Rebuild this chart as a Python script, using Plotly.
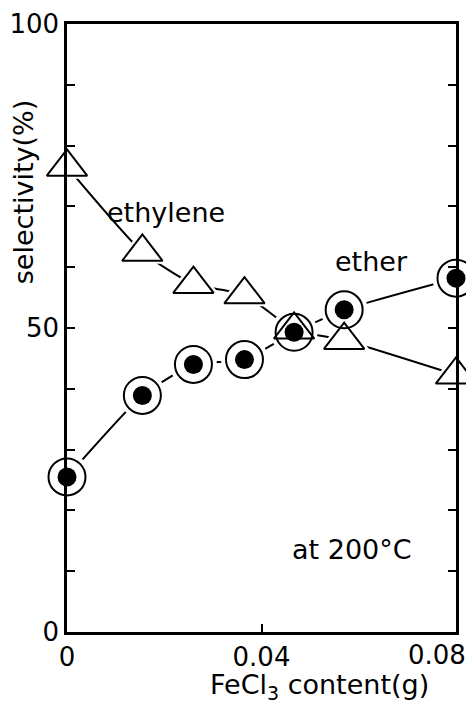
import plotly.graph_objects as go

# FeCl3 content (g)
fecl3 = [0.0, 0.0155, 0.026, 0.0365, 0.0467, 0.057, 0.08]
# selectivity (%)
ethylene = [76.5, 62.5, 57.2, 55.5, 49.7, 48.0, 42.3]
ether = [25.5, 38.9, 44.0, 44.8, 49.3, 53.0, 58.2]

y_ticks = [0, 50, 100]
y_tick_text = ["0", "50", "100"]
x_ticks = [0, 0.04, 0.08]
x_tick_text = ["0", "0.04", "0.08"]

FONT = "DejaVu Sans"
TRI = 35
CIR = 37

fig = go.Figure()
# connecting lines
fig.add_trace(go.Scatter(x=fecl3, y=ethylene, mode="lines",
                         line=dict(color="black", width=2, shape="spline", smoothing=0.5),
                         cliponaxis=False, hoverinfo="skip"))
fig.add_trace(go.Scatter(x=fecl3, y=ether, mode="lines",
                         line=dict(color="black", width=2, shape="spline", smoothing=0.5),
                         cliponaxis=False, hoverinfo="skip"))
# white halos for gaps between line and markers
fig.add_trace(go.Scatter(x=fecl3, y=ethylene, mode="markers",
                         marker=dict(symbol="triangle-up", size=TRI + 12, color="white",
                                     line=dict(width=0)),
                         cliponaxis=False, hoverinfo="skip"))
fig.add_trace(go.Scatter(x=fecl3, y=ether, mode="markers",
                         marker=dict(symbol="circle", size=CIR + 10, color="white",
                                     line=dict(width=0)),
                         cliponaxis=False, hoverinfo="skip"))
# ethylene triangles
fig.add_trace(go.Scatter(x=fecl3, y=ethylene, mode="markers", name="ethylene",
                         marker=dict(symbol="triangle-up", size=TRI, color="white",
                                     line=dict(color="black", width=2)),
                         cliponaxis=False))
# ether circles with filled dots
fig.add_trace(go.Scatter(x=fecl3, y=ether, mode="markers", name="ether",
                         marker=dict(symbol="circle-open", size=CIR, color="black",
                                     line=dict(color="black", width=2)),
                         cliponaxis=False))
fig.add_trace(go.Scatter(x=fecl3, y=ether, mode="markers",
                         marker=dict(symbol="circle", size=19, color="black",
                                     line=dict(width=0)),
                         cliponaxis=False, hoverinfo="skip"))

fig.update_layout(
    width=474, height=705,
    # page body adds 8px offset; margins compensate so the plot sits at 67..456 x 24..632
    margin=dict(l=59, r=26, t=16, b=81),
    paper_bgcolor="white", plot_bgcolor="white",
    showlegend=False,
    font=dict(family=FONT, size=26, color="black"),
    xaxis=dict(range=[0, 0.08], tickvals=x_ticks[:2], ticktext=x_tick_text[:2],
               automargin=False, ticklabeloverflow="allow",
               showgrid=False, zeroline=False, showline=True, linecolor="black",
               linewidth=2.5, mirror=True, ticks="inside", ticklen=8, tickwidth=2,
               tickcolor="black", tickfont=dict(family=FONT, size=26)),
    yaxis=dict(range=[0, 100], tickvals=y_ticks, ticktext=y_tick_text,
               automargin=False, ticklabeloverflow="allow",
               showgrid=False, zeroline=False, showline=True, linecolor="black",
               linewidth=2.5, mirror="ticks", ticks="inside", ticklen=8, tickwidth=2,
               tickcolor="black", tickfont=dict(family=FONT, size=26),
               minor=dict(dtick=10, ticks="inside", ticklen=8, tickwidth=2,
                          tickcolor="black", showgrid=False)),
)

# last x tick label, pulled inside the figure edge
fig.add_annotation(text=x_tick_text[2], x=x_ticks[2], xref="x", y=0, yref="paper",
                   xanchor="center", yanchor="top", xshift=-19, yshift=-6,
                   showarrow=False, font=dict(family=FONT, size=26))

fig.add_annotation(text="selectivity(%)", xref="paper", yref="paper",
                   x=-0.112, y=0.724, xanchor="center", yanchor="middle",
                   textangle=-90, showarrow=False,
                   font=dict(family=FONT, size=27))
fig.add_annotation(text="FeCl<sub>3</sub> content(g)", xref="paper", yref="paper",
                   x=0.65, y=-0.09, xanchor="center", yanchor="middle",
                   showarrow=False, font=dict(family=FONT, size=27))
fig.add_annotation(text="ethylene", x=0.0204, y=69, xanchor="center", yanchor="middle",
                   showarrow=False, font=dict(family=FONT, size=27))
fig.add_annotation(text="ether", x=0.0627, y=61, xanchor="center", yanchor="middle",
                   showarrow=False, font=dict(family=FONT, size=27))
fig.add_annotation(text="at 200°C", x=0.0586, y=13.5, xanchor="center", yanchor="middle",
                   showarrow=False, font=dict(family=FONT, size=27))

fig.write_html("out.html")
